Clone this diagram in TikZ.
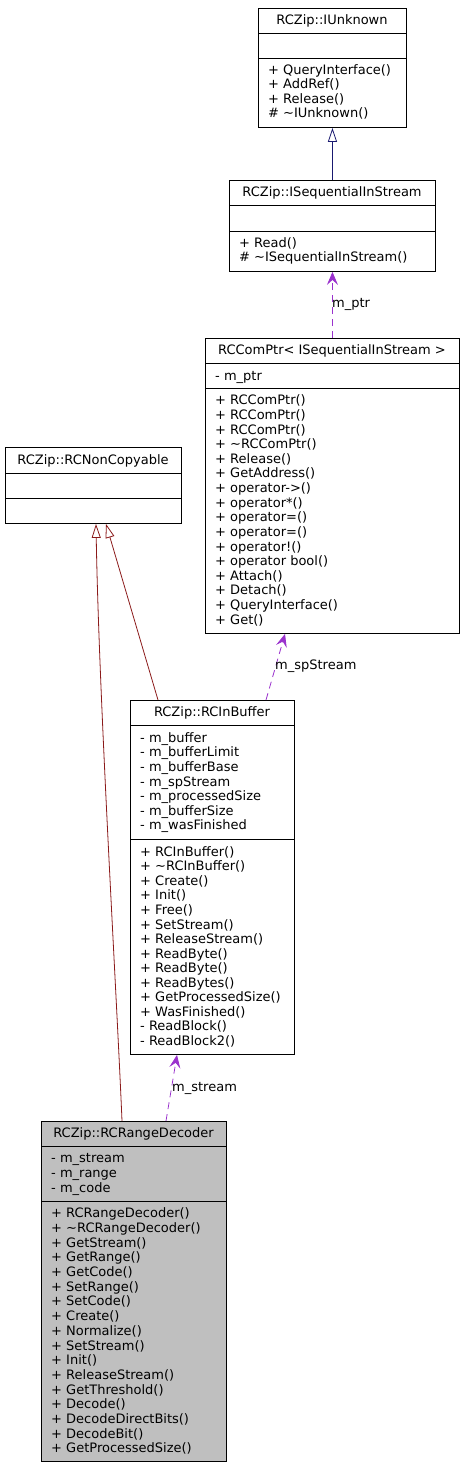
\documentclass[tikz,border=0pt]{standalone}
\usepackage{fontspec}
\setmainfont{DejaVu Sans}
\usetikzlibrary{arrows.meta}
\definecolor{usepurple}{HTML}{9A32CD}
\definecolor{privred}{HTML}{8B1A1A}
\definecolor{pubblue}{HTML}{191970}
\definecolor{boxgray}{HTML}{BFBFBF}
\newcommand{\memberlines}[5]{%
  \foreach \t [count=\i] in {#5}
    \node[txt] (#1\i) at (#2,{#3+#4*(\i-1)+4.3}) {\t};}
\begin{document}
\begin{tikzpicture}[x=1pt,y=-1pt,
  classbox/.style={draw=black, line width=0.9pt, rectangle, inner sep=0pt, anchor=north west},
  sepline/.style={draw=black, line width=0.9pt},
  txt/.style={anchor=base west, inner sep=0pt, font=\fontsize{13}{14.6}\selectfont},
  ttl/.style={anchor=base, inner sep=0pt, font=\fontsize{13}{14.6}\selectfont},
  lbl/.style={anchor=west, inner sep=0pt, font=\fontsize{13}{14.6}\selectfont},
  usage/.style={draw=usepurple, line width=0.8pt, dash pattern=on 7pt off 5pt,
    -{Stealth[length=13pt,width=11pt,inset=5pt,fill=usepurple]}},
  inhpriv/.style={draw=privred, line width=0.8pt,
    -{Triangle[open,length=14pt,width=9pt,fill=white]}},
  inhpub/.style={draw=pubblue, line width=0.8pt,
    -{Triangle[open,length=14pt,width=9pt,fill=white]}}
]
\useasboundingbox (0,0) rectangle (464,1467);

% ---------------- RCZip::IUnknown
\node[classbox, minimum width=148pt, minimum height=119pt] (iunk) at (258,8) {};
\draw[sepline] (258,33) -- (406,33);
\draw[sepline] (258,58) -- (406,58);
\node[ttl] (iunkT) at (332,{20.5+4.3}) {RCZip::IUnknown};
\memberlines{iunkM}{268}{70}{14.5}{{+ QueryInterface()},{+ AddRef()},{+ Release()},{\# \textasciitilde IUnknown()}}

% ---------------- RCZip::ISequentialInStream
\node[classbox, minimum width=206pt, minimum height=91pt] (iseq) at (229,180) {};
\draw[sepline] (229,205) -- (435,205);
\draw[sepline] (229,231) -- (435,231);
\node[ttl] (iseqT) at (332,{192.5+4.3}) {RCZip::ISequentialInStream};
\memberlines{iseqM}{239}{243}{14.6}{{+ Read()},{\# \textasciitilde ISequentialInStream()}}

% ---------------- RCComPtr< ISequentialInStream >
\node[classbox, minimum width=254pt, minimum height=295pt] (rccom) at (205,338) {};
\draw[sepline] (205,363) -- (459,363);
\draw[sepline] (205,388) -- (459,388);
\node[ttl] (rccomT) at (332,{350.5+4.3}) {RCComPtr< ISequentialInStream >};
\memberlines{rccomA}{215}{376}{14.6}{{- m\_ptr}}
\memberlines{rccomM}{215}{400.5}{14.63}{{+ RCComPtr()},{+ RCComPtr()},{+ RCComPtr()},{+ \textasciitilde RCComPtr()},{+ Release()},{+ GetAddress()},{+ operator->()},{+ operator*()},{+ operator=()},{+ operator=()},{+ operator!()},{+ operator bool()},{+ Attach()},{+ Detach()},{+ QueryInterface()},{+ Get()}}

% ---------------- RCZip::RCNonCopyable
\node[classbox, minimum width=176pt, minimum height=76pt] (noncopy) at (5,447) {};
\draw[sepline] (5,473) -- (181,473);
\draw[sepline] (5,498) -- (181,498);
\node[ttl] (noncopyT) at (93,{460+4.3}) {RCZip::RCNonCopyable};

% ---------------- RCZip::RCInBuffer
\node[classbox, minimum width=164pt, minimum height=354pt] (inbuf) at (130,700) {};
\draw[sepline] (130,725) -- (294,725);
\draw[sepline] (130,839) -- (294,839);
\node[ttl] (inbufT) at (212,{712.5+4.3}) {RCZip::RCInBuffer};
\memberlines{inbufA}{140}{738}{14.6}{{- m\_buffer},{- m\_bufferLimit},{- m\_bufferBase},{- m\_spStream},{- m\_processedSize},{- m\_bufferSize},{- m\_wasFinished}}
\memberlines{inbufM}{140}{852}{14.55}{{+ RCInBuffer()},{+ \textasciitilde RCInBuffer()},{+ Create()},{+ Init()},{+ Free()},{+ SetStream()},{+ ReleaseStream()},{+ ReadByte()},{+ ReadByte()},{+ ReadBytes()},{+ GetProcessedSize()},{+ WasFinished()},{- ReadBlock()},{- ReadBlock2()}}

% ---------------- RCZip::RCRangeDecoder
\node[classbox, fill=boxgray, minimum width=185pt, minimum height=340pt] (rdec) at (41,1121) {};
\draw[sepline] (41,1146) -- (226,1146);
\draw[sepline] (41,1201) -- (226,1201);
\node[ttl] (rdecT) at (133.5,{1133.5+4.3}) {RCZip::RCRangeDecoder};
\memberlines{rdecA}{51}{1158.5}{14.7}{{- m\_stream},{- m\_range},{- m\_code}}
\memberlines{rdecM}{51}{1213.5}{14.69}{{+ RCRangeDecoder()},{+ \textasciitilde RCRangeDecoder()},{+ GetStream()},{+ GetRange()},{+ GetCode()},{+ SetRange()},{+ SetCode()},{+ Create()},{+ Normalize()},{+ SetStream()},{+ Init()},{+ ReleaseStream()},{+ GetThreshold()},{+ Decode()},{+ DecodeDirectBits()},{+ DecodeBit()},{+ GetProcessedSize()}}

% ---------------- connectors
\draw[inhpub] (iseq.north) -- (iunk.south);
\draw[usage] (rccom.north) -- (iseq.south);
\node[lbl] (lblptr) at (332,304) {m\_ptr};
\draw[usage] ([xshift=136pt]inbuf.north west) -- ([xshift=80pt]rccom.south west);
\node[lbl] (lblsp) at (275,666) {m\_spStream};
\draw[usage] ([xshift=125pt]rdec.north west) -- ([xshift=47pt]inbuf.south west);
\node[lbl] (lblst) at (172,1088) {m\_stream};
\draw[inhpriv] ([xshift=81pt]rdec.north west) .. controls (117,1000) and (99,700) .. ([xshift=91pt]noncopy.south west);
\draw[inhpriv] ([xshift=28pt]inbuf.north west) -- ([xshift=101pt]noncopy.south west);
\end{tikzpicture}
\end{document}
